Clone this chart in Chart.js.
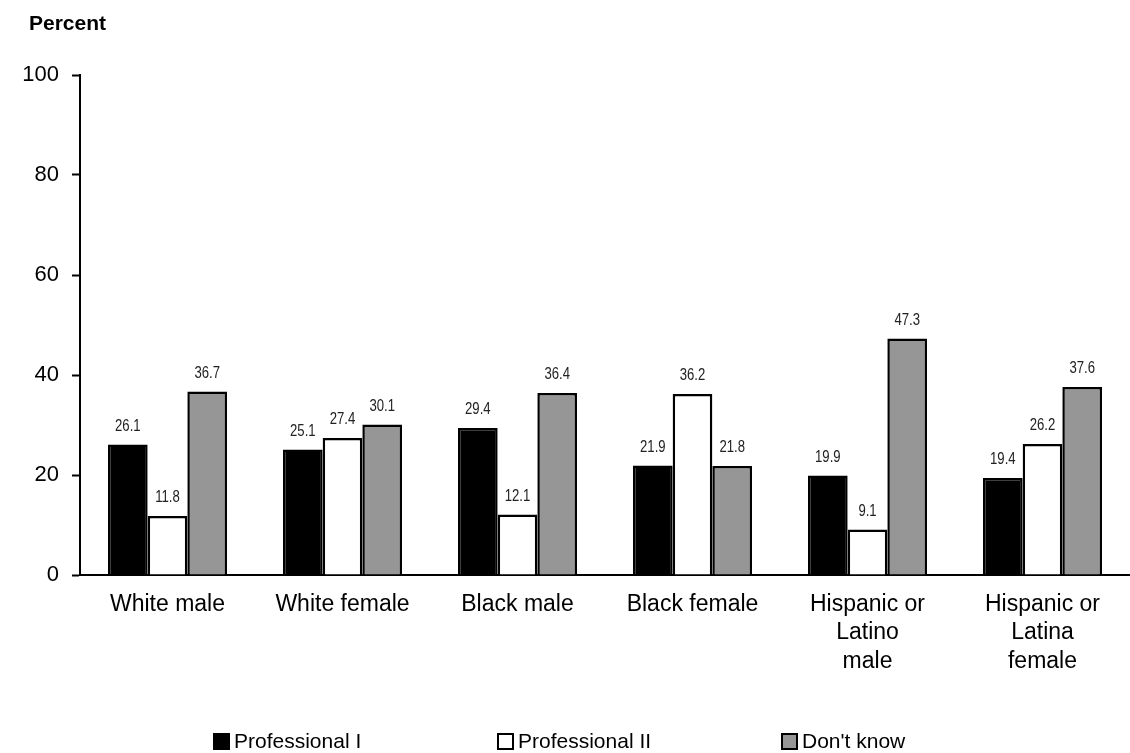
<!DOCTYPE html>
<html>
<head>
<meta charset="utf-8">
<script src="https://cdn.jsdelivr.net/npm/chart.js@4/dist/chart.umd.min.js"></script>
<style>
  body { margin: 0; background: #fff; }
  #wrap { position: relative; width: 1130px; height: 753px; }
  #legend { position: absolute; left: 213px; top: 730px; display: flex; font: 21px "Liberation Sans", Arial, sans-serif; color: #000; line-height: 22px; }
  .item { width: 284px; display: flex; align-items: center; }
  .box { width: 17px; height: 17px; border: 2px solid #000; margin-right: 4px; box-sizing: border-box; }
</style>
</head>
<body>
<div id="wrap">
  <canvas id="chart" width="1130" height="753"></canvas>
  <div id="legend"></div>
</div>
<script>
const categories = [
    ['White male'],
    ['White female'],
    ['Black male'],
    ['Black female'],
    ['Hispanic or', 'Latino', 'male'],
    ['Hispanic or', 'Latina', 'female']
];
const seriesNames = ['Professional I', 'Professional II', "Don't know"];
const professional1 = [26.1, 25.1, 29.4, 21.9, 19.9, 19.4];
const professional2 = [11.8, 27.4, 12.1, 36.2, 9.1, 26.2];
const dontKnow = [36.7, 30.1, 36.4, 21.8, 47.3, 37.6];
const yTicks = [0, 20, 40, 60, 80, 100];

const colors = ['#000000', '#ffffff', '#969696'];

// value labels above bars (narrow look) and the "Percent" title
const valueLabels = {
    id: 'valueLabels',
    afterDatasetsDraw(chart) {
        const ctx = chart.ctx;
        const sx = 0.82;
        ctx.save();
        ctx.fillStyle = '#222';
        ctx.font = '16px "Liberation Sans", Arial, sans-serif';
        ctx.textAlign = 'center';
        ctx.textBaseline = 'alphabetic';
        ctx.scale(sx, 1);
        chart.data.datasets.forEach((ds, i) => {
            chart.getDatasetMeta(i).data.forEach((bar, j) => {
                ctx.fillText(ds.data[j].toFixed(1), bar.x / sx, bar.y - 14);
            });
        });
        ctx.restore();

        ctx.save();
        ctx.fillStyle = '#000';
        ctx.font = 'bold 21px "Liberation Sans", Arial, sans-serif';
        ctx.textAlign = 'left';
        ctx.textBaseline = 'middle';
        ctx.fillText('Percent', 29, 24);
        ctx.restore();
    }
};

new Chart(document.getElementById('chart'), {
    type: 'bar',
    data: {
        labels: categories,
        datasets: [professional1, professional2, dontKnow].map((d, i) => ({
            label: seriesNames[i],
            data: d,
            backgroundColor: colors[i],
            borderColor: '#000',
            borderWidth: 2.5,
            categoryPercentage: 0.68,
            barPercentage: 1
        }))
    },
    options: {
        responsive: false,
        animation: false,
        layout: { padding: { top: 75, right: 0, left: 0, bottom: 0 } },
        plugins: {
            legend: { display: false },
            tooltip: { enabled: false }
        },
        scales: {
            x: {
                grid: { display: false, drawTicks: false },
                border: { display: true, color: '#000', width: 2 },
                ticks: {
                    color: '#000',
                    padding: 15,
                    maxRotation: 0,
                    autoSkip: false,
                    font: { family: '"Liberation Sans", Arial, sans-serif', size: 23, lineHeight: 1.24 }
                },
                afterFit(scale) { scale.height = 178; }
            },
            y: {
                min: 0,
                max: 100,
                afterBuildTicks(scale) { scale.ticks = yTicks.map(v => ({ value: v })); },
                grid: { drawOnChartArea: false, tickLength: 8, tickColor: '#000', tickWidth: 2 },
                border: { display: true, color: '#000', width: 2 },
                ticks: {
                    color: '#000',
                    padding: 13,
                    font: { family: '"Liberation Sans", Arial, sans-serif', size: 22 }
                },
                afterFit(scale) { scale.width = 80; }
            }
        }
    },
    plugins: [valueLabels]
});

const legend = document.getElementById('legend');
seriesNames.forEach((name, i) => {
    legend.innerHTML += '<div class="item"><span class="box" style="background:' + colors[i] + '"></span>' + name + '</div>';
});
</script>
</body>
</html>
